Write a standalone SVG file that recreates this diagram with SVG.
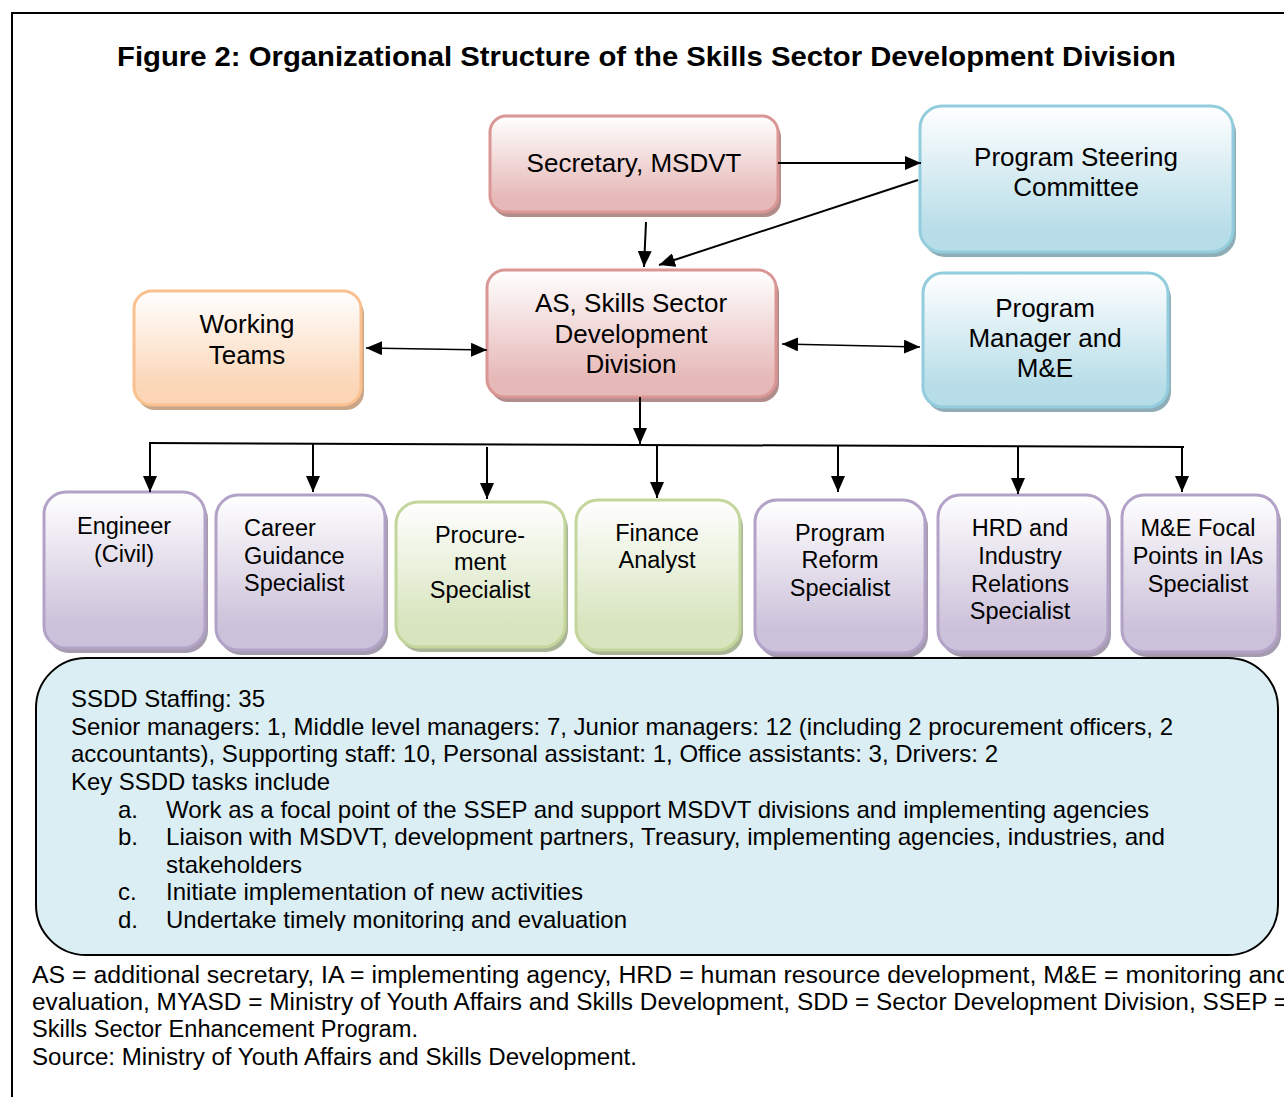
<svg xmlns="http://www.w3.org/2000/svg" width="1284" height="1097" viewBox="0 0 1284 1097">
<defs>
<linearGradient id="gRed" x1="0" y1="0" x2="0" y2="1"><stop offset="0" stop-color="#ffffff"/><stop offset="0.85" stop-color="#e6b9b8"/></linearGradient>
<linearGradient id="gBlue" x1="0" y1="0" x2="0" y2="1"><stop offset="0" stop-color="#ffffff"/><stop offset="0.85" stop-color="#b7dde8"/></linearGradient>
<linearGradient id="gOrange" x1="0" y1="0" x2="0" y2="1"><stop offset="0" stop-color="#ffffff"/><stop offset="0.85" stop-color="#fbd5b5"/></linearGradient>
<linearGradient id="gPurple" x1="0" y1="0" x2="0" y2="1"><stop offset="0" stop-color="#ffffff"/><stop offset="0.85" stop-color="#ccc1da"/></linearGradient>
<linearGradient id="gGreen" x1="0" y1="0" x2="0" y2="1"><stop offset="0" stop-color="#ffffff"/><stop offset="0.85" stop-color="#d7e4bd"/></linearGradient>
<marker id="ah" markerUnits="userSpaceOnUse" markerWidth="16" markerHeight="14" refX="16" refY="7" orient="auto-start-reverse">
<path d="M0,0 L16,7 L0,14 z" fill="#000"/>
</marker>
<clipPath id="boxClip"><rect x="0" y="650" width="1284" height="281"/></clipPath>
</defs>
<style>
text{font-family:"Liberation Sans",Arial,sans-serif;fill:#000}
.title{font-size:27px;font-weight:bold}
.n{font-size:26px;text-anchor:middle}
.s{font-size:23.5px;text-anchor:middle}
.sl{font-size:23.5px}
.b{font-size:24px}
.f{font-size:23.5px}
.red{fill:url(#gRed);stroke:#d99694;stroke-width:3}
.blue{fill:url(#gBlue);stroke:#93cddd;stroke-width:3}
.orange{fill:url(#gOrange);stroke:#fac090;stroke-width:3}
.purple{fill:url(#gPurple);stroke:#b3a2c7;stroke-width:3}
.green{fill:url(#gGreen);stroke:#c3d69b;stroke-width:3}
.shR{fill:#b08c8b}
.shB{fill:#8eadb6}
.shO{fill:#c9a688}
.shP{fill:#a49bae}
.shG{fill:#a9b496}
.c{stroke:#000;stroke-width:2;fill:none}
.ct{stroke:#000;stroke-width:1.3;fill:none}
</style>
<rect width="1284" height="1097" fill="#fff"/>
<path d="M12,1097 V13 H1284" fill="none" stroke="#000" stroke-width="2"/>
<text class="title" x="117" y="66" textLength="1059" lengthAdjust="spacingAndGlyphs">Figure 2: Organizational Structure of the Skills Sector Development Division</text>

<g id="secretary">
<rect class="shR" x="493" y="121" width="288" height="96" rx="16"/>
<rect class="red" x="490" y="116" width="288" height="96" rx="16"/>
<text class="n" x="634" y="172">Secretary, MSDVT</text>
</g>
<g id="steering">
<rect class="shB" x="923" y="111" width="313" height="146" rx="22"/>
<rect class="blue" x="920" y="106" width="313" height="146" rx="22"/>
<text class="n" x="1076" y="166">Program Steering</text>
<text class="n" x="1076" y="196">Committee</text>
</g>
<g id="as">
<rect class="shR" x="490" y="275" width="289" height="127" rx="18"/>
<rect class="red" x="487" y="270" width="289" height="127" rx="18"/>
<text class="n" x="631" y="312">AS, Skills Sector</text>
<text class="n" x="631" y="343">Development</text>
<text class="n" x="631" y="373">Division</text>
</g>
<g id="working">
<rect class="shO" x="137" y="296" width="227" height="114" rx="18"/>
<rect class="orange" x="134" y="291" width="227" height="114" rx="18"/>
<text class="n" x="247" y="333">Working</text>
<text class="n" x="247" y="364">Teams</text>
</g>
<g id="pm">
<rect class="shB" x="926" y="278" width="245" height="134" rx="20"/>
<rect class="blue" x="923" y="273" width="245" height="134" rx="20"/>
<text class="n" x="1045" y="317">Program</text>
<text class="n" x="1045" y="347">Manager and</text>
<text class="n" x="1045" y="377">M&amp;E</text>
</g>

<g id="engineer">
<rect class="shP" x="47" y="497" width="161" height="156" rx="22"/>
<rect class="purple" x="44" y="492" width="161" height="156" rx="22"/>
<text class="s" x="124" y="534">Engineer</text>
<text class="s" x="124" y="562">(Civil)</text>
</g>
<g id="career">
<rect class="shP" x="219" y="500" width="169" height="155" rx="22"/>
<rect class="purple" x="216" y="495" width="169" height="155" rx="22"/>
<text class="sl" x="244" y="536">Career</text>
<text class="sl" x="244" y="564">Guidance</text>
<text class="sl" x="244" y="591">Specialist</text>
</g>
<g id="procurement">
<rect class="shG" x="399" y="507" width="169" height="145" rx="22"/>
<rect class="green" x="396" y="502" width="169" height="145" rx="22"/>
<text class="s" x="480" y="543">Procure-</text>
<text class="s" x="480" y="570">ment</text>
<text class="s" x="480" y="598">Specialist</text>
</g>
<g id="finance">
<rect class="shG" x="579" y="505" width="164" height="150" rx="22"/>
<rect class="green" x="576" y="500" width="164" height="150" rx="22"/>
<text class="s" x="657" y="541">Finance</text>
<text class="s" x="657" y="568">Analyst</text>
</g>
<g id="reform">
<rect class="shP" x="758" y="505" width="170" height="153" rx="22"/>
<rect class="purple" x="755" y="500" width="170" height="153" rx="22"/>
<text class="s" x="840" y="541">Program</text>
<text class="s" x="840" y="568">Reform</text>
<text class="s" x="840" y="596">Specialist</text>
</g>
<g id="hrd">
<rect class="shP" x="941" y="500" width="170" height="157" rx="22"/>
<rect class="purple" x="938" y="495" width="170" height="157" rx="22"/>
<text class="s" x="1020" y="536">HRD and</text>
<text class="s" x="1020" y="564">Industry</text>
<text class="s" x="1020" y="592">Relations</text>
<text class="s" x="1020" y="619">Specialist</text>
</g>
<g id="me">
<rect class="shP" x="1125" y="500" width="156" height="157" rx="22"/>
<rect class="purple" x="1122" y="495" width="156" height="157" rx="22"/>
<text class="s" x="1198" y="536">M&amp;E Focal</text>
<text class="s" x="1198" y="564">Points in IAs</text>
<text class="s" x="1198" y="592">Specialist</text>
</g>

<g id="connectors">
<line class="c" x1="778" y1="163" x2="921" y2="163" marker-end="url(#ah)"/>
<line class="c" x1="918" y1="180" x2="659" y2="265" marker-end="url(#ah)"/>
<line class="c" x1="646" y1="222" x2="644" y2="267" marker-end="url(#ah)"/>
<line class="ct" x1="366" y1="348" x2="487" y2="350" marker-start="url(#ah)" marker-end="url(#ah)"/>
<line class="ct" x1="782" y1="344" x2="920" y2="347" marker-start="url(#ah)" marker-end="url(#ah)"/>
<line class="c" x1="640" y1="397" x2="640" y2="444" marker-end="url(#ah)"/>
<line class="c" x1="149" y1="443" x2="1184" y2="447"/>
<line class="c" x1="150" y1="443" x2="150" y2="492" marker-end="url(#ah)"/>
<line class="c" x1="313" y1="444" x2="313" y2="492" marker-end="url(#ah)"/>
<line class="c" x1="487" y1="447" x2="487" y2="499" marker-end="url(#ah)"/>
<line class="c" x1="657" y1="445" x2="657" y2="498" marker-end="url(#ah)"/>
<line class="c" x1="838" y1="446" x2="838" y2="492" marker-end="url(#ah)"/>
<line class="c" x1="1018" y1="446" x2="1018" y2="494" marker-end="url(#ah)"/>
<line class="c" x1="1182" y1="447" x2="1182" y2="492" marker-end="url(#ah)"/>
</g>

<g id="staffing">
<rect x="36" y="658" width="1242" height="297" rx="50" fill="#dbeef4" stroke="#000" stroke-width="2"/>
<g clip-path="url(#boxClip)">
<text class="b" x="71" y="707" textLength="194" lengthAdjust="spacingAndGlyphs">SSDD Staffing: 35</text>
<text class="b" x="71" y="735" textLength="1102" lengthAdjust="spacingAndGlyphs">Senior managers: 1, Middle level managers: 7, Junior managers: 12 (including 2 procurement officers, 2</text>
<text class="b" x="71" y="762" textLength="927" lengthAdjust="spacingAndGlyphs">accountants), Supporting staff: 10, Personal assistant: 1, Office assistants: 3, Drivers: 2</text>
<text class="b" x="71" y="790" textLength="259" lengthAdjust="spacingAndGlyphs">Key SSDD tasks include</text>
<text class="b" x="118" y="818">a.</text>
<text class="b" x="166" y="818" textLength="983" lengthAdjust="spacingAndGlyphs">Work as a focal point of the SSEP and support MSDVT divisions and implementing agencies</text>
<text class="b" x="118" y="845">b.</text>
<text class="b" x="166" y="845" textLength="999" lengthAdjust="spacingAndGlyphs">Liaison with MSDVT, development partners, Treasury, implementing agencies, industries, and</text>
<text class="b" x="166" y="873" textLength="136" lengthAdjust="spacingAndGlyphs">stakeholders</text>
<text class="b" x="118" y="900">c.</text>
<text class="b" x="166" y="900" textLength="417" lengthAdjust="spacingAndGlyphs">Initiate implementation of new activities</text>
<text class="b" x="118" y="928">d.</text>
<text class="b" x="166" y="928" textLength="461" lengthAdjust="spacingAndGlyphs">Undertake timely monitoring and evaluation</text>
</g>
</g>

<g id="notes">
<text class="f" x="32" y="983" textLength="1258" lengthAdjust="spacingAndGlyphs">AS = additional secretary, IA = implementing agency, HRD = human resource development, M&amp;E = monitoring and</text>
<text class="f" x="32" y="1010" textLength="1256" lengthAdjust="spacingAndGlyphs">evaluation, MYASD = Ministry of Youth Affairs and Skills Development, SDD = Sector Development Division, SSEP =</text>
<text class="f" x="32" y="1037" textLength="386" lengthAdjust="spacingAndGlyphs">Skills Sector Enhancement Program.</text>
<text class="f" x="32" y="1065" textLength="605" lengthAdjust="spacingAndGlyphs">Source: Ministry of Youth Affairs and Skills Development.</text>
</g>
</svg>
